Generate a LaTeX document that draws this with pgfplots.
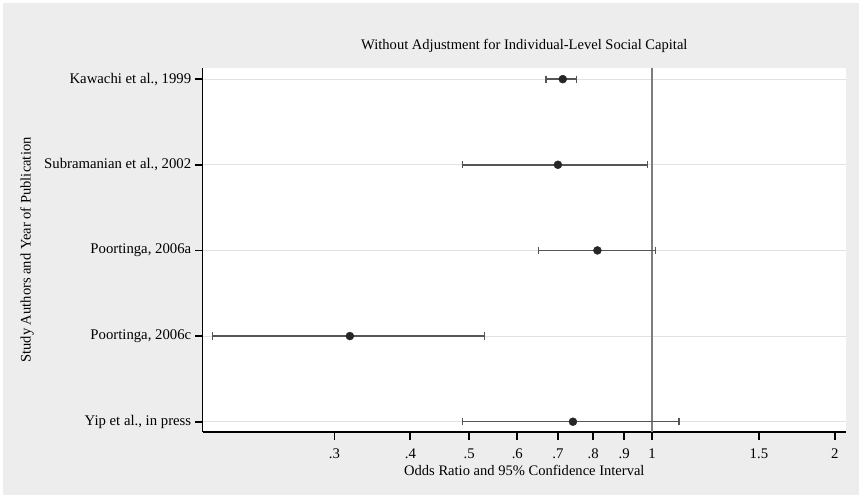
\documentclass[border=0pt]{standalone}
\usepackage{fontspec}
\setmainfont{Liberation Serif}
\usepackage{pgfplots}
\pgfplotsset{compat=1.18}
\definecolor{bg}{RGB}{237,237,237}
\definecolor{gridc}{RGB}{226,226,226}
\definecolor{cic}{RGB}{85,85,85}
\definecolor{refl}{RGB}{125,125,125}
\begin{document}
\begin{tikzpicture}
\fill[white] (0bp,0bp) rectangle (859bp,495bp);
\fill[bg] (3bp,0bp) rectangle (859bp,492bp);
\begin{axis}[
  at={(202.7bp,63bp)}, anchor=south west, scale only axis,
  width=643.3bp, height=364bp,
  xmode=log, xmin=0.182, xmax=2.087, ymin=0.88, ymax=5.13,
  axis background/.style={fill=white},
  axis x line*=bottom, axis y line*=left,
  axis line style={black, line width=1.3bp, -},
  xtick={0.3,0.4,0.5,0.6,0.7,0.8,0.9,1,1.5,2},
  xticklabels={.3,.4,.5,.6,.7,.8,.9,1,1.5,2},
  xminorticks=false, yminorticks=false,
  ytick={1,2,3,4,5},
  yticklabels={{Yip et al., in press},{Poortinga, 2006c},{Poortinga, 2006a},{Subramanian et al., 2002},{Kawachi et al., 1999}},
  tick align=outside, major tick length=7.5bp,
  tick style={draw=black, line width=1.8bp},
  ymajorgrids, grid style={gridc, line width=1bp},
  every tick label/.append style={font=\fontsize{14.8}{17}\selectfont, text=black},
  xticklabel style={anchor=base, yshift=-19bp},
  yticklabel style={anchor=east, xshift=-0.5bp},
  title={Without Adjustment for Individual-Level Social Capital},
  title style={at={(axis description cs:0.5,1)}, anchor=base, yshift=13bp, font=\fontsize{14.6}{17}\selectfont},
  xlabel={Odds Ratio and 95\% Confidence Interval},
  xlabel style={at={(axis description cs:0.5,0)}, anchor=base, yshift=-43bp, font=\fontsize{14.6}{17}\selectfont},
  ylabel={Study Authors and Year of Publication},
  ylabel style={at={(axis description cs:-0.2731,0.5)}, anchor=center, rotate=0, font=\fontsize{14.6}{17}\selectfont},
  clip=false,
]
\addplot[refl, line width=1.4bp] coordinates {(1,0.88) (1,5.13)};
\addplot[cic, line width=1.5bp, mark=|, mark size=3.6bp, mark options={line width=1.1bp}] coordinates {(0.669,5) (0.750,5)};
\addplot[cic, line width=1.5bp, mark=|, mark size=3.6bp, mark options={line width=1.1bp}] coordinates {(0.488,4) (0.983,4)};
\addplot[cic, line width=1.5bp, mark=|, mark size=3.6bp, mark options={line width=1.1bp}] coordinates {(0.650,3) (1.012,3)};
\addplot[cic, line width=1.5bp, mark=|, mark size=3.6bp, mark options={line width=1.1bp}] coordinates {(0.189,2) (0.529,2)};
\addplot[cic, line width=1.5bp, mark=|, mark size=3.6bp, mark options={line width=1.1bp}] coordinates {(0.488,1) (1.108,1)};
\addplot[only marks, mark=*, mark size=4bp, mark options={fill=black!85, draw=black!85}] coordinates {(0.713,5) (0.700,4) (0.813,3) (0.318,2) (0.741,1)};
\end{axis}
\end{tikzpicture}
\end{document}
